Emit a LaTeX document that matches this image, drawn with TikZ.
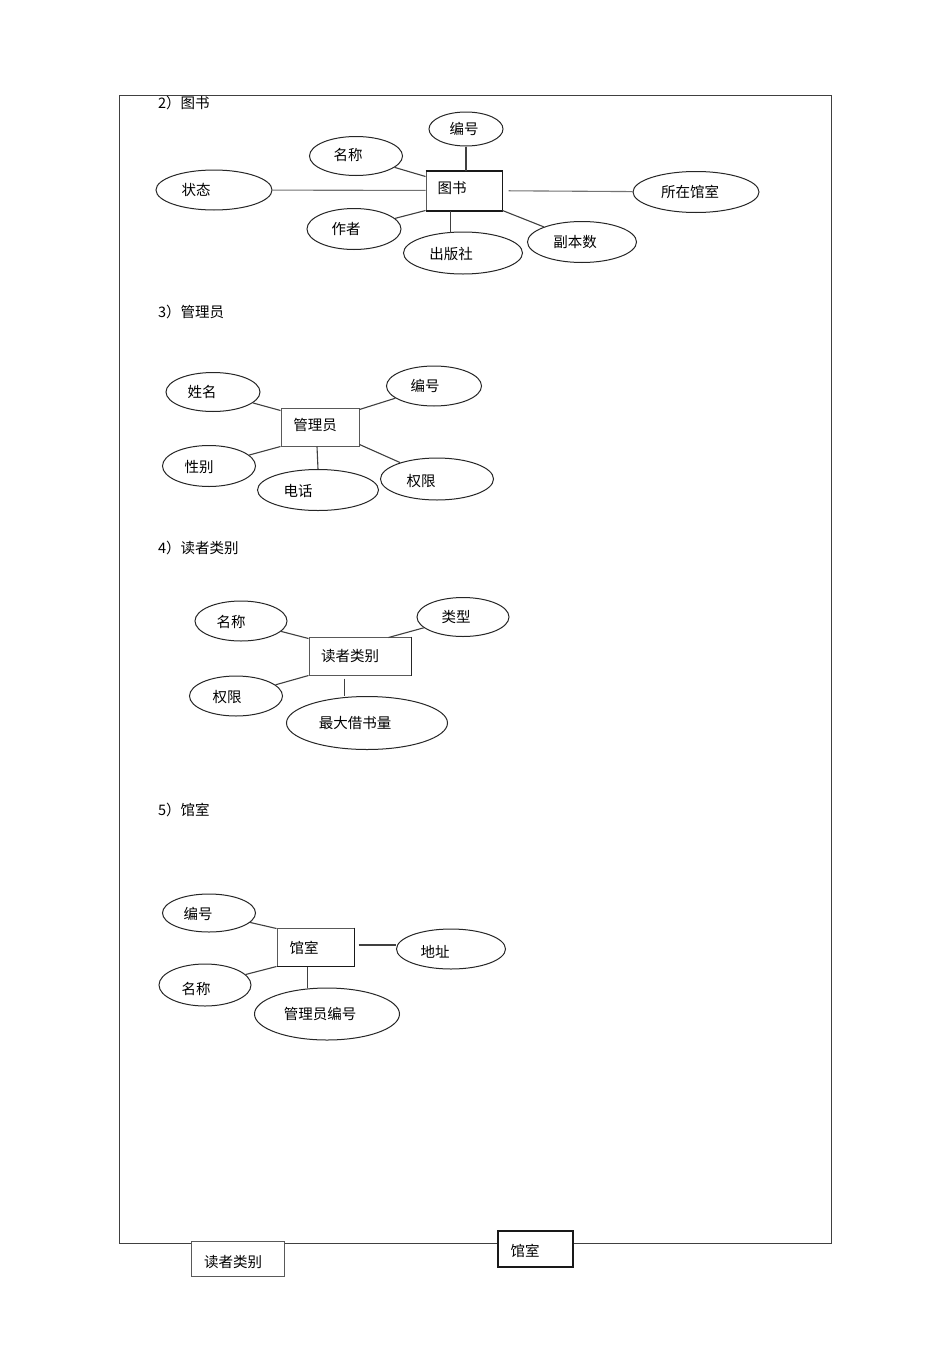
\documentclass[tikz,border=0pt]{standalone}
\usepackage{fontspec}
\setmainfont{Noto Sans CJK SC}
\usetikzlibrary{shapes.geometric,calc}
\tikzset{
  attr/.style={ellipse, draw=black!85, line width=1pt, inner sep=0pt},
  ent/.style={rectangle, draw=black!65, line width=1pt, fill=white, inner sep=0pt},
  lnk/.style={draw=black!75, line width=1.1pt},
  lbl/.style={inner sep=0pt, font=\fontsize{14.5}{16}\selectfont},
  hdr/.style={inner sep=0pt, anchor=west, font=\fontsize{14.5}{16}\selectfont},
  thk/.style={draw=black!90, line width=2pt},
}
\newcommand\attrnode[6]{%
  \node[attr, minimum width=#3, minimum height=#4] (#1) at #2 {};
  \node[lbl] (#1t) at #5 {#6};
}
\newcommand\entnode[6]{%
  \node[ent, minimum width=#3, minimum height=#4] (#1) at #2 {};
  \node[lbl] (#1t) at #5 {#6};
}
\begin{document}
\begin{tikzpicture}[x=1pt,y=-1pt]
\useasboundingbox (0,0) rectangle (950,1346);
\fill[white] (0,0) rectangle (950,1346);
% frame
\draw[draw=black!75, line width=1pt] (119,95) rectangle (831,1243);

% ---------- 2) 图书
\node[hdr] (h2) at (158,103) {2）图书};
\entnode{ts}{(464,190.5)}{76pt}{39pt}{(452,188)}{图书}
\draw[thk] (ts.north west) -- (ts.north east);
\draw[thk] (ts.south west) -- (ts.south east);
\draw[draw=black!90, line width=1.4pt] (ts.north east) -- (ts.south east);
\attrnode{tbh}{(466,129)}{74pt}{34pt}{(464,129)}{编号}
\attrnode{tmc}{(356,156)}{93pt}{39pt}{(348,155)}{名称}
\attrnode{tzt}{(214,190)}{116pt}{40pt}{(196,190)}{状态}
\attrnode{tgs}{(696,192)}{126pt}{41pt}{(690,192)}{所在馆室}
\attrnode{tzz}{(354,229)}{94pt}{41pt}{(346,229)}{作者}
\attrnode{tcb}{(463,253)}{119pt}{42pt}{(451,254)}{出版社}
\attrnode{tfb}{(582,242)}{109pt}{41pt}{(575,242)}{副本数}
\draw[lnk] (tbh) -- (tbh |- ts.north);
\draw[lnk] (tmc) -- ([yshift=-6pt]ts.north west);
\draw[lnk, draw=black!55] (tzt) -- (ts);
\draw[lnk, draw=black!55, shorten <=6pt] (ts) -- (tgs);
\draw[lnk] (tzz) -- (ts.south west);
\draw[lnk] ([xshift=25pt]ts.south west) -- ([xshift=25pt,yshift=-1pt]ts.south west |- tcb.north);
\draw[lnk] (tfb) -- (ts.south east);

% ---------- 3) 管理员
\node[hdr] (h3) at (158,312) {3）管理员};
\entnode{gly}{(320,427)}{78pt}{38pt}{(315,425)}{管理员}
\attrnode{gxm}{(213,392)}{94pt}{39pt}{(202,392)}{姓名}
\attrnode{gbh}{(434,386)}{95pt}{40pt}{(425,386)}{编号}
\attrnode{gxb}{(209,466)}{93pt}{41pt}{(199,467)}{性别}
\attrnode{gdh}{(318,490)}{121pt}{41pt}{(298,491)}{电话}
\attrnode{gqx}{(437,479)}{113pt}{42pt}{(421,481)}{权限}
\draw[lnk] (gxm) -- ([yshift=-3pt]gly.north west);
\draw[lnk] (gbh) -- ([yshift=-2pt]gly.north east);
\draw[lnk] (gxb) -- (gly.south west);
\draw[lnk] ([xshift=-3pt]gly.south) -- ([xshift=-2pt]gly.south |- gdh.north);
\draw[lnk] (gqx) -- ([yshift=2pt]gly.south east);

% ---------- 4) 读者类别
\node[hdr] (h4) at (158,548) {4）读者类别};
\entnode{dz}{(360,656)}{102pt}{38pt}{(350,656)}{读者类别}
\draw[draw=black!85, line width=1.4pt] (dz.north east) -- (dz.south east);
\attrnode{dmc}{(241,621)}{92pt}{40pt}{(231,622)}{名称}
\attrnode{dlx}{(463,617)}{92pt}{39pt}{(456,617)}{类型}
\attrnode{dqx}{(236,696)}{93pt}{40pt}{(227,697)}{权限}
\attrnode{dzd}{(367,723)}{161pt}{53pt}{(355,723)}{最大借书量}
\draw[lnk] (dmc) -- ([yshift=-2pt]dz.north west);
\draw[lnk] (dlx) -- ([xshift=-23pt,yshift=-1pt]dz.north east);
\draw[lnk] (dqx) -- (dz.south west);
\draw[lnk] ([xshift=36pt,yshift=-3pt]dz.south west) -- ([xshift=36pt]dz.south west |- dzd.north);

% ---------- 5) 馆室
\node[hdr] (h5) at (158,810) {5）馆室};
\entnode{gs}{(315.5,947)}{77pt}{38pt}{(304,948)}{馆室}
\draw[draw=black!90, line width=1.4pt] (gs.north east) -- (gs.south east) -- (gs.south west);
\attrnode{sbh}{(209,913)}{93pt}{38pt}{(198,914)}{编号}
\attrnode{sdz}{(451,949)}{109pt}{40pt}{(435,952)}{地址}
\attrnode{smc}{(205,985)}{92pt}{42pt}{(196,989)}{名称}
\attrnode{sgl}{(327,1014)}{145pt}{52pt}{(320,1014)}{管理员编号}
\draw[lnk] (sbh) -- ([yshift=-1pt]gs.north west);
\draw[lnk, shorten <=4pt] ([yshift=2pt]gs.east) -- ([yshift=2pt]gs.east -| sdz.west);
\draw[lnk] (smc) -- (gs.south west);
\draw[lnk] ([xshift=31pt]gs.south west) -- ([xshift=31pt]gs.south west |- sgl.north);

% ---------- bottom boxes
\entnode{bdz}{(237.5,1258.5)}{93pt}{35pt}{(233,1262)}{读者类别}
\node[rectangle, fill=white, draw=black!90, line width=1.6pt, inner sep=0pt,
      minimum width=75pt, minimum height=36pt] (bgs) at (535.5,1249) {};
\node[lbl] (bgst) at (525,1251) {馆室};
\end{tikzpicture}
\end{document}
